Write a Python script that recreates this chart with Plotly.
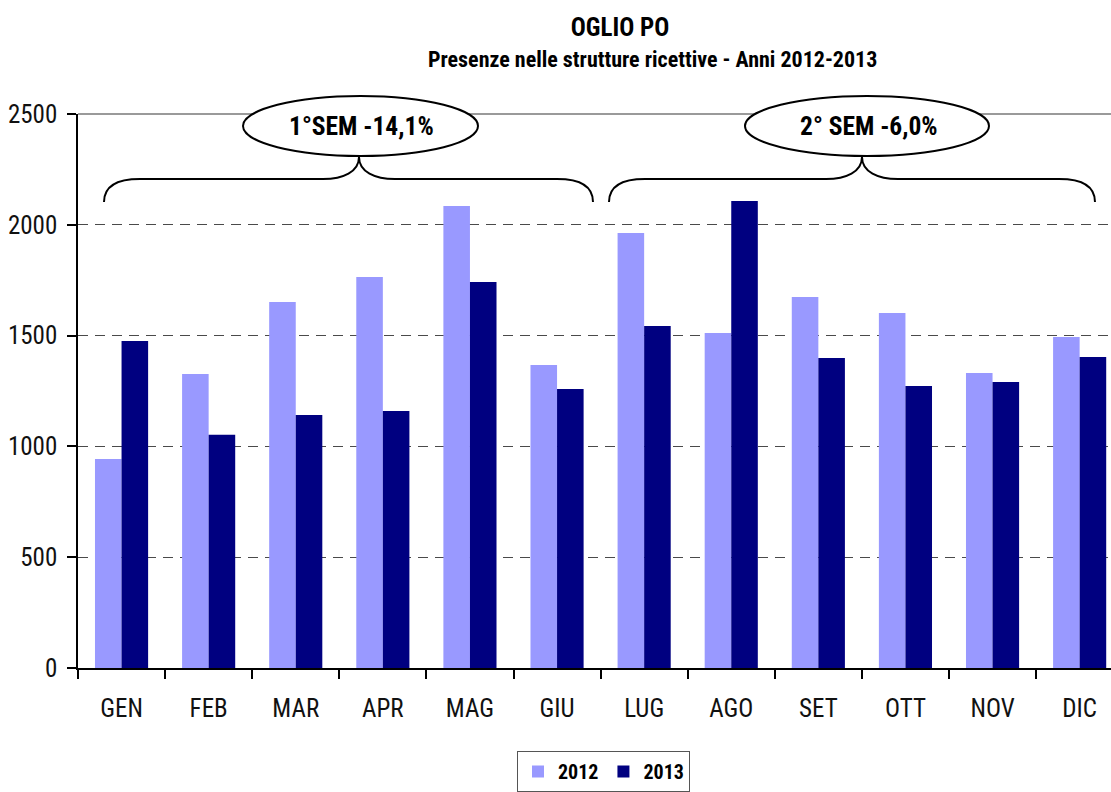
import plotly.graph_objects as go

months = ["GEN", "FEB", "MAR", "APR", "MAG", "GIU", "LUG", "AGO", "SET", "OTT", "NOV", "DIC"]
v2012 = [943, 1327, 1652, 1764, 2085, 1367, 1963, 1512, 1674, 1602, 1331, 1494]
v2013 = [1476, 1053, 1142, 1160, 1742, 1259, 1543, 2107, 1399, 1273, 1291, 1403]
series_names = ["2012", "2013"]
title_line1 = "OGLIO PO"
title_line2 = "Presenze nelle strutture ricettive - Anni 2012-2013"
sem_labels = ["1°SEM -14,1%", "2° SEM -6,0%"]

FONT = "Liberation Sans Narrow, Arial Narrow, Roboto Condensed, Liberation Sans, sans-serif"

W, H = 1111, 792
L, R, T, B = 78, 0, 114, 124
PW = W - L - R
PH = H - T - B


def px(x):
    return (x - L) / PW


def py(y):
    return (H - B - y) / PH


def path(tokens):
    out = []
    for tok in tokens:
        if isinstance(tok, tuple):
            out.append(f"{px(tok[0]):.5f},{py(tok[1]):.5f}")
        else:
            out.append(tok)
    return " ".join(out)


fig = go.Figure()
fig.add_trace(go.Bar(x=months, y=v2012, name="<b>" + series_names[0] + "</b>",
                     marker_color="#9999FF", marker_line_width=0))
fig.add_trace(go.Bar(x=months, y=v2013, name="<b>" + series_names[1] + "</b>",
                     marker_color="#000080", marker_line_width=0))

shapes = []
# top border line of plot area
shapes.append(dict(type="line", xref="paper", yref="paper", x0=0, x1=1, y0=1, y1=1,
                   line=dict(color="#9a9a9a", width=2)))


def brace(x0, xc, x1):
    return path(["M", (x0, 202), "C", (x0, 186), (x0 + 14, 179), (x0 + 36, 179),
                 "L", (xc - 36, 179), "C", (xc - 16, 179), (xc, 172), (xc, 157),
                 "C", (xc, 172), (xc + 16, 179), (xc + 36, 179),
                 "L", (x1 - 36, 179), "C", (x1 - 14, 179), (x1, 186), (x1, 202)])


shapes.append(dict(type="path", xref="paper", yref="paper", path=brace(104, 359, 593),
                   line=dict(color="black", width=2)))
shapes.append(dict(type="path", xref="paper", yref="paper", path=brace(609, 862, 1095),
                   line=dict(color="black", width=2)))
for (a, b) in [(243, 478), (745, 989)]:
    shapes.append(dict(type="circle", xref="paper", yref="paper",
                       x0=px(a), x1=px(b), y0=py(156), y1=py(96),
                       fillcolor="white", line=dict(color="black", width=2)))

annotations = [
    dict(text="<b>" + title_line2 + "</b>", xref="paper", yref="paper", x=px(652), y=py(60),
         xanchor="center", yanchor="middle", showarrow=False, font=dict(family=FONT, size=22, color="black")),
    dict(text="<b>" + sem_labels[0] + "</b>", xref="paper", yref="paper", x=px(361), y=py(126),
         xanchor="center", yanchor="middle", showarrow=False, font=dict(family=FONT, size=25.5, color="black")),
    dict(text="<b>" + sem_labels[1] + "</b>", xref="paper", yref="paper", x=px(869), y=py(126),
         xanchor="center", yanchor="middle", showarrow=False, font=dict(family=FONT, size=25.5, color="black")),
]

fig.update_layout(
    width=W, height=H,
    margin=dict(l=L, r=R, t=T, b=B, pad=0),
    paper_bgcolor="white", plot_bgcolor="white",
    barmode="group", bargap=0.39, bargroupgap=0,
    font=dict(family=FONT, size=25, color="black"),
    title=dict(text="<b>" + title_line1 + "</b>", x=620 / W, xanchor="center", xref="container",
               y=1 - 27 / H, yanchor="middle", yref="container",
               font=dict(family=FONT, size=25, color="black")),
    shapes=shapes,
    annotations=annotations,
    showlegend=True,
    legend=dict(orientation="h", x=px(603.5), y=py(751), xanchor="center", yanchor="top",
                bordercolor="#555555", borderwidth=1, font=dict(family=FONT, size=20, color="black"),
                traceorder="normal"),
    xaxis=dict(range=[-0.5, 11.36], showgrid=False, showline=True, linecolor="black", linewidth=1.5,
               ticks="outside", tickson="boundaries", ticklen=9, tickcolor="black", tickwidth=1.5,
               ticklabelstandoff=17, tickfont=dict(family=FONT, size=25, color="#111111"), fixedrange=True),
    yaxis=dict(range=[0, 2500], tickvals=[0, 500, 1000, 1500, 2000, 2500], showgrid=True,
               gridcolor="#4a4a4a", gridwidth=1.2, griddash="10px,7px",
               showline=True, linecolor="black", linewidth=1.5, ticks="outside", ticklen=9,
               tickcolor="black", tickwidth=1.5, ticklabelstandoff=5,
               tickfont=dict(family=FONT, size=25, color="#111111"), zeroline=False, fixedrange=True),
)

fig.write_html("out.html", config={"displayModeBar": False},
               post_script="document.body.style.margin='0';document.body.style.overflow='hidden';")
